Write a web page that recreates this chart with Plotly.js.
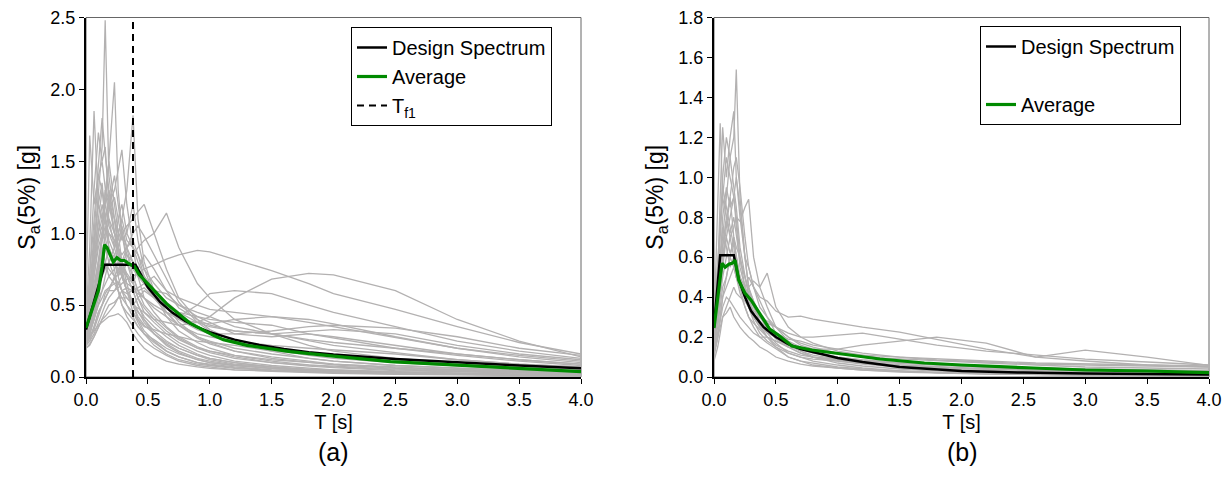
<!DOCTYPE html>
<html>
<head>
<meta charset="utf-8">
<script src="https://cdn.plot.ly/plotly-3.0.1.min.js"></script>
<style>html,body{margin:0;padding:0;background:#fff;}#chart{width:1230px;height:492px;}</style>
</head>
<body>
<div id="chart"></div>
<script>
// ---------- Panel (a) ----------
const periodsA = [0,0.03,0.065,0.1,0.13,0.155,0.185,0.23,0.26,0.29,0.33,0.38,0.42,0.47,0.55,0.65,0.75,0.9,1.0,1.2,1.5,1.8,2.0,2.5,3.0,3.5,4.0];
const recordsA = [
  [0.35,0.55,0.9,1.3,1.6,2.48,1.4,1.1,0.9,0.8,0.7,0.6,0.5,0.42,0.35,0.28,0.22,0.16,0.13,0.1,0.07,0.05,0.045,0.03,0.022,0.016,0.012],
  [0.3,0.45,0.8,1.1,1.3,1.2,1.5,2.05,1.3,1.0,0.8,0.65,0.55,0.45,0.38,0.3,0.24,0.18,0.15,0.11,0.08,0.06,0.05,0.035,0.026,0.02,0.015],
  [0.4,0.9,1.85,1.2,1.1,0.9,0.8,0.7,0.6,0.5,0.45,0.4,0.35,0.3,0.26,0.2,0.16,0.12,0.1,0.08,0.06,0.045,0.04,0.03,0.02,0.015,0.01],
  [0.25,0.35,0.5,0.6,0.7,0.75,0.8,0.9,1.0,1.1,1.3,1.82,1.1,0.8,0.6,0.45,0.36,0.27,0.23,0.18,0.13,0.1,0.085,0.06,0.045,0.035,0.028],
  [0.45,1.68,1.2,1.4,1.5,1.3,1.1,0.9,0.8,0.7,0.6,0.5,0.42,0.36,0.3,0.24,0.2,0.15,0.12,0.09,0.07,0.05,0.045,0.03,0.025,0.018,0.014],
  [0.3,0.4,0.6,0.8,1.0,1.1,1.2,1.3,1.45,1.58,1.2,0.9,0.7,0.55,0.45,0.35,0.28,0.21,0.18,0.14,0.1,0.075,0.065,0.045,0.035,0.027,0.02],
  [0.28,0.33,0.4,0.5,0.6,0.7,0.8,0.85,0.9,1.0,1.05,1.1,1.15,1.2,1.0,0.75,0.55,0.4,0.33,0.25,0.18,0.13,0.11,0.08,0.06,0.045,0.035],
  [0.22,0.25,0.3,0.38,0.45,0.5,0.55,0.6,0.65,0.7,0.8,0.85,0.9,0.95,1.0,1.14,0.9,0.65,0.55,0.4,0.3,0.22,0.18,0.13,0.1,0.08,0.06],
  [0.22,0.25,0.35,0.45,0.5,0.55,0.6,0.6,0.62,0.65,0.68,0.7,0.72,0.75,0.78,0.82,0.85,0.88,0.87,0.82,0.74,0.65,0.58,0.47,0.35,0.24,0.16],
  [0.2,0.22,0.28,0.35,0.4,0.45,0.5,0.52,0.55,0.55,0.55,0.5,0.48,0.45,0.4,0.38,0.36,0.38,0.42,0.55,0.68,0.72,0.71,0.6,0.4,0.25,0.14],
  [0.25,0.3,0.4,0.6,0.7,0.8,0.9,0.8,0.7,0.75,0.8,0.7,0.6,0.55,0.5,0.45,0.42,0.5,0.58,0.6,0.58,0.5,0.45,0.35,0.25,0.18,0.13],
  [0.3,0.5,0.8,1.0,1.2,1.1,0.9,0.8,0.75,0.7,0.65,0.62,0.6,0.62,0.55,0.45,0.4,0.38,0.37,0.4,0.42,0.4,0.37,0.28,0.2,0.15,0.11],
  [0.35,0.6,1.0,1.4,1.3,1.1,1.0,0.95,0.85,0.7,0.6,0.5,0.45,0.4,0.32,0.25,0.2,0.15,0.13,0.1,0.07,0.055,0.05,0.035,0.025,0.02,0.015],
  [0.25,0.35,0.55,0.7,0.85,0.95,1.1,1.0,0.9,0.85,0.9,0.95,0.85,0.7,0.6,0.52,0.45,0.38,0.35,0.32,0.3,0.32,0.33,0.3,0.22,0.16,0.12],
  [0.4,0.7,1.3,1.7,1.5,1.6,1.2,1.0,0.9,0.8,0.7,0.6,0.5,0.4,0.3,0.22,0.17,0.12,0.1,0.08,0.06,0.045,0.04,0.03,0.02,0.015,0.012],
  [0.28,0.4,0.6,0.75,0.8,0.9,0.85,0.8,0.9,1.0,0.9,0.8,0.7,0.65,0.6,0.58,0.5,0.42,0.38,0.3,0.28,0.3,0.28,0.22,0.16,0.12,0.09],
  [0.22,0.28,0.35,0.45,0.5,0.55,0.6,0.7,0.75,0.8,0.85,0.8,0.75,0.7,0.6,0.48,0.4,0.33,0.3,0.3,0.32,0.35,0.36,0.34,0.28,0.2,0.15],
  [0.3,0.45,0.7,0.95,1.05,1.2,1.3,1.1,0.9,0.75,0.6,0.45,0.38,0.3,0.22,0.16,0.12,0.09,0.08,0.06,0.045,0.035,0.03,0.022,0.017,0.013,0.01],
  [0.25,0.3,0.45,0.55,0.7,0.8,0.75,0.7,0.65,0.6,0.55,0.5,0.55,0.6,0.55,0.5,0.45,0.42,0.4,0.38,0.36,0.3,0.27,0.2,0.15,0.11,0.08],
  [0.33,0.5,0.7,0.9,1.0,1.1,0.95,0.85,0.7,0.6,0.5,0.42,0.35,0.3,0.24,0.18,0.14,0.1,0.09,0.07,0.05,0.04,0.035,0.025,0.02,0.015,0.011],
  [0.2,0.23,0.28,0.35,0.4,0.42,0.45,0.5,0.55,0.6,0.62,0.6,0.58,0.55,0.48,0.42,0.36,0.3,0.28,0.25,0.22,0.2,0.19,0.16,0.12,0.09,0.07],
  [0.36,0.6,0.9,1.2,1.1,1.3,1.5,1.2,1.0,0.8,0.65,0.5,0.4,0.32,0.25,0.18,0.14,0.1,0.085,0.065,0.05,0.04,0.035,0.025,0.018,0.014,0.01],
  [0.24,0.3,0.45,0.6,0.8,0.9,1.0,0.9,1.1,1.2,1.0,0.9,0.8,0.7,0.6,0.5,0.38,0.28,0.24,0.18,0.14,0.11,0.09,0.065,0.05,0.04,0.03],
  [0.3,0.4,0.5,0.7,0.9,0.8,0.7,0.65,0.6,0.55,0.5,0.45,0.4,0.35,0.33,0.3,0.28,0.25,0.24,0.22,0.18,0.16,0.15,0.12,0.09,0.07,0.05],
  [0.26,0.35,0.55,0.75,0.95,1.05,0.9,0.75,0.6,0.5,0.42,0.35,0.3,0.25,0.2,0.15,0.11,0.08,0.07,0.05,0.04,0.03,0.025,0.018,0.014,0.01,0.008],
  [0.38,0.7,1.1,1.5,1.8,1.55,1.3,1.0,0.85,0.7,0.6,0.52,0.45,0.38,0.3,0.23,0.18,0.13,0.11,0.085,0.06,0.047,0.04,0.03,0.022,0.017,0.013],
  [0.22,0.3,0.42,0.55,0.6,0.65,0.7,0.75,0.8,0.75,0.7,0.65,0.75,0.85,0.75,0.6,0.48,0.4,0.36,0.32,0.3,0.26,0.24,0.2,0.16,0.12,0.09],
  [0.25,0.28,0.32,0.36,0.38,0.4,0.42,0.43,0.44,0.42,0.38,0.3,0.25,0.2,0.15,0.11,0.09,0.07,0.06,0.05,0.04,0.035,0.03,0.024,0.018,0.014,0.01],
  [0.32,0.5,0.85,1.1,0.95,1.3,1.2,1.4,1.2,1.0,0.85,0.75,0.7,0.65,0.55,0.45,0.36,0.28,0.25,0.2,0.16,0.13,0.11,0.08,0.06,0.045,0.035],
  [0.28,0.45,0.65,0.8,0.95,1.0,1.2,1.1,1.0,1.1,0.95,0.9,0.85,0.75,0.65,0.55,0.5,0.45,0.42,0.35,0.3,0.25,0.22,0.17,0.12,0.09,0.07],
  [0.24,0.3,0.4,0.5,0.55,0.6,0.62,0.65,0.66,0.6,0.58,0.6,0.62,0.65,0.7,0.6,0.55,0.5,0.47,0.45,0.42,0.38,0.35,0.28,0.2,0.14,0.1],
  [0.3,0.55,0.95,1.2,1.35,1.1,1.25,1.0,0.95,1.05,0.9,0.7,0.6,0.5,0.42,0.34,0.27,0.2,0.17,0.13,0.1,0.08,0.07,0.05,0.038,0.03,0.022],
  [0.26,0.32,0.5,0.7,0.85,1.0,1.15,1.25,1.1,0.95,1.0,1.2,0.95,0.75,0.58,0.42,0.32,0.24,0.2,0.15,0.11,0.085,0.075,0.055,0.042,0.033,0.025],
  [0.23,0.27,0.33,0.42,0.5,0.58,0.62,0.68,0.72,0.8,0.9,1.0,1.05,0.98,0.85,0.68,0.52,0.38,0.32,0.25,0.19,0.15,0.13,0.1,0.075,0.055,0.045],
  [0.34,0.55,0.75,1.0,1.1,1.2,1.05,0.95,0.85,0.8,0.72,0.66,0.55,0.48,0.4,0.32,0.26,0.2,0.18,0.15,0.12,0.1,0.09,0.07,0.05,0.04,0.03]
];
const designA_T = [0,0.15,0.4,0.5,0.6,0.7,0.8,0.9,1.0,1.2,1.4,1.6,1.8,2.0,2.5,3.0,3.5,4.0];
const designA_Sa = [0.33,0.78,0.78,0.624,0.52,0.446,0.39,0.347,0.312,0.26,0.223,0.195,0.173,0.156,0.125,0.1,0.08,0.06];
const averageA_T = [0,0.05,0.1,0.13,0.15,0.17,0.19,0.22,0.25,0.28,0.31,0.36,0.39,0.43,0.52,0.65,0.79,0.84,1.03,1.11,1.3,1.65,2.0,2.46,3.0,3.5,4.0];
const averageA_Sa = [0.34,0.47,0.6,0.77,0.92,0.9,0.86,0.8,0.83,0.81,0.81,0.78,0.77,0.71,0.63,0.51,0.41,0.375,0.29,0.26,0.22,0.176,0.145,0.107,0.083,0.06,0.037];
const tf1 = 0.38;

// ---------- Panel (b) ----------
const periodsB = [0,0.03,0.05,0.07,0.1,0.13,0.16,0.18,0.21,0.25,0.28,0.32,0.37,0.43,0.5,0.6,0.7,0.8,1.0,1.2,1.5,1.8,2.2,2.6,3.0,3.5,4.0];
const recordsB = [
  [0.2,0.4,0.6,0.7,0.9,1.1,1.2,1.54,0.9,0.6,0.45,0.35,0.28,0.22,0.17,0.12,0.1,0.08,0.06,0.045,0.03,0.022,0.016,0.012,0.01,0.008,0.006],
  [0.25,0.8,1.27,0.9,0.8,0.7,0.6,0.5,0.45,0.35,0.3,0.25,0.2,0.17,0.14,0.1,0.08,0.07,0.05,0.04,0.03,0.022,0.017,0.013,0.01,0.008,0.006],
  [0.2,0.5,0.9,1.25,1.0,1.2,1.33,1.0,0.8,0.6,0.45,0.38,0.3,0.25,0.2,0.15,0.12,0.1,0.08,0.065,0.05,0.04,0.032,0.026,0.02,0.016,0.013],
  [0.15,0.3,0.4,0.5,0.6,0.7,0.75,0.8,0.78,0.85,0.89,0.6,0.45,0.35,0.25,0.18,0.15,0.13,0.1,0.085,0.07,0.06,0.05,0.04,0.035,0.03,0.025],
  [0.12,0.2,0.3,0.4,0.45,0.5,0.55,0.5,0.45,0.42,0.45,0.48,0.45,0.52,0.35,0.25,0.2,0.17,0.13,0.11,0.08,0.065,0.055,0.045,0.04,0.034,0.03],
  [0.18,0.3,0.45,0.6,0.7,0.8,0.9,1.0,0.85,0.6,0.55,0.45,0.4,0.38,0.33,0.3,0.305,0.29,0.27,0.25,0.225,0.19,0.14,0.1,0.135,0.1,0.058],
  [0.1,0.2,0.3,0.4,0.5,0.6,0.55,0.5,0.45,0.4,0.35,0.3,0.25,0.22,0.2,0.17,0.15,0.14,0.14,0.16,0.18,0.2,0.17,0.1,0.08,0.06,0.05],
  [0.2,0.35,0.5,0.65,0.8,0.9,0.7,0.6,0.5,0.45,0.4,0.35,0.3,0.27,0.25,0.22,0.2,0.2,0.21,0.22,0.19,0.16,0.13,0.11,0.09,0.075,0.06],
  [0.22,0.45,0.7,0.9,1.1,1.0,0.9,0.8,0.6,0.45,0.35,0.28,0.22,0.18,0.15,0.12,0.1,0.09,0.08,0.07,0.06,0.05,0.04,0.035,0.03,0.025,0.02],
  [0.25,0.5,0.75,1.0,1.2,1.1,0.95,0.85,0.65,0.5,0.4,0.32,0.26,0.2,0.16,0.13,0.11,0.1,0.09,0.08,0.07,0.06,0.05,0.04,0.035,0.03,0.025],
  [0.15,0.25,0.35,0.45,0.5,0.6,0.7,0.65,0.6,0.5,0.42,0.36,0.3,0.28,0.25,0.2,0.17,0.15,0.12,0.1,0.09,0.08,0.07,0.06,0.05,0.045,0.04],
  [0.3,0.6,0.8,0.95,0.85,0.75,0.65,0.55,0.45,0.4,0.35,0.3,0.25,0.2,0.15,0.1,0.08,0.06,0.045,0.035,0.025,0.02,0.015,0.012,0.01,0.008,0.006],
  [0.08,0.15,0.22,0.3,0.35,0.4,0.45,0.42,0.4,0.38,0.35,0.3,0.28,0.25,0.22,0.19,0.18,0.16,0.14,0.12,0.1,0.085,0.075,0.065,0.06,0.055,0.05],
  [0.2,0.35,0.55,0.8,0.95,0.85,0.9,0.75,0.55,0.45,0.5,0.45,0.38,0.3,0.22,0.17,0.14,0.12,0.1,0.085,0.07,0.06,0.05,0.04,0.035,0.03,0.025],
  [0.12,0.2,0.25,0.3,0.32,0.35,0.3,0.28,0.25,0.22,0.2,0.18,0.15,0.13,0.1,0.08,0.065,0.055,0.045,0.035,0.028,0.022,0.018,0.015,0.012,0.01,0.008],
  [0.18,0.3,0.45,0.6,0.75,0.9,1.05,1.1,0.95,0.7,0.55,0.45,0.35,0.3,0.25,0.2,0.16,0.14,0.12,0.1,0.08,0.065,0.055,0.045,0.04,0.035,0.03],
  [0.14,0.22,0.28,0.35,0.4,0.38,0.35,0.33,0.3,0.27,0.25,0.22,0.2,0.2,0.18,0.16,0.13,0.1,0.07,0.055,0.04,0.03,0.025,0.02,0.016,0.013,0.01],
  [0.22,0.4,0.6,0.75,0.65,0.55,0.6,0.5,0.42,0.35,0.3,0.27,0.24,0.2,0.18,0.15,0.14,0.13,0.12,0.11,0.1,0.09,0.08,0.07,0.065,0.06,0.055],
  [0.16,0.28,0.42,0.55,0.7,0.62,0.68,0.6,0.5,0.42,0.38,0.33,0.3,0.26,0.2,0.16,0.13,0.11,0.09,0.075,0.06,0.05,0.042,0.035,0.03,0.026,0.022],
  [0.2,0.32,0.48,0.66,0.78,0.72,0.8,0.7,0.58,0.5,0.44,0.38,0.32,0.24,0.19,0.15,0.12,0.1,0.085,0.07,0.055,0.045,0.038,0.032,0.027,0.023,0.02]
];
const designB_T = [0,0.05,0.16,0.2,0.25,0.3,0.4,0.5,0.6,0.7,0.8,1.0,1.2,1.5,2.0,2.5,3.0,3.5,4.0];
const designB_Sa = [0.25,0.61,0.61,0.49,0.40,0.33,0.25,0.2,0.165,0.14,0.125,0.095,0.075,0.05,0.03,0.022,0.018,0.015,0.013];
const averageB_T = [0,0.04,0.065,0.09,0.12,0.15,0.17,0.2,0.25,0.3,0.39,0.45,0.52,0.63,0.79,1.03,1.34,1.7,2.0,2.58,3.0,3.5,4.0];
const averageB_Sa = [0.245,0.45,0.57,0.55,0.565,0.57,0.585,0.485,0.42,0.385,0.30,0.24,0.21,0.155,0.135,0.115,0.09,0.07,0.06,0.045,0.035,0.03,0.022];

const legendLabels = ['Design Spectrum', 'Average', 'T<sub>f1</sub>'];
const panelLabels = ['(a)', '(b)'];
const xTitle = 'T [s]';
const yTitle = 'S<sub>a</sub>(5%) [g]';

const FONT = 'Liberation Sans, Arial, sans-serif';
const GRAY = '#b3b1b1';
const GREEN = '#008a00';

const traces = [];
recordsA.forEach(r => traces.push({x: periodsA, y: r, xaxis:'x', yaxis:'y', mode:'lines', line:{color:GRAY, width:1.3}, showlegend:false, hoverinfo:'skip'}));
recordsB.forEach(r => traces.push({x: periodsB, y: r, xaxis:'x2', yaxis:'y2', mode:'lines', line:{color:GRAY, width:1.3}, showlegend:false, hoverinfo:'skip'}));

traces.push({x: designA_T, y: designA_Sa, xaxis:'x', yaxis:'y', mode:'lines', name: legendLabels[0], line:{color:'#000', width:2.5}, legend:'legend'});
traces.push({x: averageA_T, y: averageA_Sa, xaxis:'x', yaxis:'y', mode:'lines', name: legendLabels[1], line:{color:GREEN, width:3.2}, legend:'legend'});
traces.push({x: [tf1, tf1], y: [0, 2.5], xaxis:'x', yaxis:'y', mode:'lines', name: legendLabels[2], line:{color:'#000', width:2, dash:'7px,5px'}, legend:'legend'});

traces.push({x: designB_T, y: designB_Sa, xaxis:'x2', yaxis:'y2', mode:'lines', name: legendLabels[0], line:{color:'#000', width:2.5}, legend:'legend2'});
traces.push({x: [null], y: [null], xaxis:'x2', yaxis:'y2', mode:'lines', name: '\u00a0', line:{color:'rgba(0,0,0,0)', width:1}, legend:'legend2'});
traces.push({x: averageB_T, y: averageB_Sa, xaxis:'x2', yaxis:'y2', mode:'lines', name: legendLabels[1], line:{color:GREEN, width:3.2}, legend:'legend2'});

const H = 492, W = 1230;
const yDom = [(H-377)/H, (H-17.5)/H];
function xax(dom, anchor){
  return {domain: dom, anchor: anchor, range:[0,4], dtick:0.5, tick0:0, tickformat:'.1f', showgrid:false, zeroline:false,
    showline:true, linecolor:'#000', linewidth:2, ticks:'outside', ticklen:5, tickwidth:1, tickcolor:'#000',
    tickfont:{family:FONT, size:18, color:'#000'}, title:{text:xTitle, font:{family:FONT, size:20, color:'#000'}, standoff:6}, fixedrange:true};
}
function yax(range, dtick, anchor){
  return {domain: yDom, anchor: anchor, range: range, dtick: dtick, tick0:0, tickformat:'.1f', showgrid:false, zeroline:false,
    showline:true, linecolor:'#000', linewidth:2, ticks:'outside', ticklen:5, tickwidth:1, tickcolor:'#000',
    tickfont:{family:FONT, size:18, color:'#000'}, title:{text:yTitle, font:{family:FONT, size:23, color:'#000'}, standoff:8}, fixedrange:true};
}

const layout = {
  width: W, height: H, margin:{l:0,r:0,t:0,b:0}, paper_bgcolor:'#fff', plot_bgcolor:'#fff',
  font:{family:FONT, color:'#000'},
  xaxis: xax([86/W, 581/W], 'y'),
  yaxis: yax([0,2.5], 0.5, 'x'),
  xaxis2: xax([714/W, 1209/W], 'y2'),
  yaxis2: yax([0,1.8], 0.2, 'x2'),
  legend: {x: 351/W, y: (H-27)/H, xanchor:'left', yanchor:'top', bgcolor:'#fff', bordercolor:'#000', borderwidth:1,
    font:{family:FONT, size:20, color:'#000'}, tracegroupgap:0, itemwidth:30},
  legend2: {x: 980/W, y: (H-26)/H, xanchor:'left', yanchor:'top', bgcolor:'#fff', bordercolor:'#000', borderwidth:1,
    font:{family:FONT, size:20, color:'#000'}, tracegroupgap:0, itemwidth:30},
  shapes: [
    {type:'rect', xref:'x domain', yref:'y domain', x0:0, x1:1, y0:0, y1:1, line:{color:'#666', width:1}, layer:'below'},
    {type:'rect', xref:'x2 domain', yref:'y2 domain', x0:0, x1:1, y0:0, y1:1, line:{color:'#666', width:1}, layer:'below'}
  ],
  annotations: [
    {text: panelLabels[0], xref:'paper', yref:'paper', x: 333/W, y:(H-452)/H, xanchor:'center', yanchor:'middle', showarrow:false, font:{family:FONT, size:25, color:'#000'}},
    {text: panelLabels[1], xref:'paper', yref:'paper', x: 962/W, y:(H-452)/H, xanchor:'center', yanchor:'middle', showarrow:false, font:{family:FONT, size:25, color:'#000'}}
  ]
};

Plotly.newPlot('chart', traces, layout, {staticPlot:true, displayModeBar:false});
</script>
</body>
</html>
